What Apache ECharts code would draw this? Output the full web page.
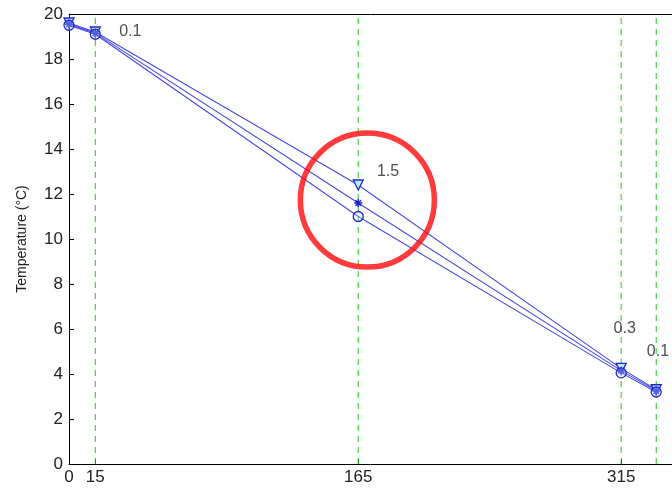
<!DOCTYPE html>
<html><head><meta charset="utf-8">
<script src="https://cdn.jsdelivr.net/npm/echarts@6/dist/echarts.min.js"></script>
<style>html,body{margin:0;padding:0;background:#fff}#c{width:672px;height:491px}</style>
</head><body><div id="c"></div>
<script>
const xPositions = [0, 15, 165, 315, 335];
const seriesTriangle = [19.6, 19.2, 12.4, 4.25, 3.3];
const seriesStar = [19.55, 19.15, 11.6, 4.15, 3.25];
const seriesCircle = [19.5, 19.1, 11.0, 4.05, 3.2];
const guideX = [15, 165, 315, 335];
const xTicks = [0, 15, 165, 315];
const annotTexts = ['0.1', '1.5', '0.3', '0.1'];
const annotX = [35, 182, 317, 336];
const annotY = [19.2, 13.0, 6.0, 5.0];
const highlight = [170.2, 11.73];

const lineColor = '#4848e0';
const markColor = '#2424cc';
const asterisk = 'path://M5,0L5,10M0,5L10,5M1.5,1.5L8.5,8.5M8.5,1.5L1.5,8.5';

function mk(vals){ return xPositions.map((x,i)=>[x, vals[i]]); }
const baseSeries = {type:'line', lineStyle:{color:lineColor, width:1.1}, itemStyle:{color:'#b8ecff', borderColor:markColor, borderWidth:1.3}, symbolSize:10, z:5};

const guideData = [];
guideX.forEach(x=>{ guideData.push([x,0]); guideData.push([x,20]); guideData.push([x,'-']); });

const chart = echarts.init(document.getElementById('c'));
chart.setOption({
  animation:false,
  grid:{left:69, top:14, bottom:27, right:0, show:false},
  xAxis:[{type:'value', min:0, max:344,
    axisLine:{show:true, onZero:false, lineStyle:{color:'#000'}},
    axisTick:{show:true, inside:true, length:5, customValues:xTicks, lineStyle:{color:'#000'}},
    axisLabel:{customValues:xTicks, color:'#222', fontSize:17, fontFamily:'Liberation Sans', margin:5},
    splitLine:{show:false}},
   {type:'value', min:0, max:344, position:'top',
    axisLine:{show:true, onZero:false, lineStyle:{color:'#000'}},
    axisTick:{show:false}, axisLabel:{show:false}, splitLine:{show:false}}],
  yAxis:{type:'value', min:0, max:20, interval:2,
    name:'Temperature (°C)', nameLocation:'middle', nameGap:40, nameRotate:90,
    nameTextStyle:{color:'#222', fontSize:14, fontFamily:'Liberation Sans'},
    axisLine:{show:true, lineStyle:{color:'#000'}},
    axisTick:{show:true, inside:true, length:5, lineStyle:{color:'#000'}},
    axisLabel:{color:'#222', fontSize:17, fontFamily:'Liberation Sans', margin:6},
    splitLine:{show:false}},
  series:[
    {type:'line', data:guideData, symbol:'none', connectNulls:false, z:2, silent:true,
      lineStyle:{color:'#22cc22', type:[6,5], width:1}},
    Object.assign({}, baseSeries, {name:'tri', data:mk(seriesTriangle), symbol:'triangle', symbolRotate:180}),
    Object.assign({}, baseSeries, {name:'star', data:mk(seriesStar), symbol:asterisk, symbolSize:8, itemStyle:{color:markColor, borderColor:markColor, borderWidth:1.5}}),
    Object.assign({}, baseSeries, {name:'circ', data:mk(seriesCircle), symbol:'circle', itemStyle:{color:'rgba(190,235,255,0.3)', borderColor:markColor, borderWidth:1.3}}),
    {type:'scatter', symbolSize:0, z:6,
      data:annotX.map((x,i)=>({value:[x, annotY[i]], label:{show:true, formatter:annotTexts[i], position:'inside', color:'#222', fontSize:16, fontFamily:'Liberation Sans'}}))},
    {type:'scatter', symbol:'circle', symbolSize:134, z:10, silent:true,
      itemStyle:{color:'transparent', borderColor:'#ff0a0a', borderWidth:5.5},
      data:[highlight]}
  ]
});
</script></body></html>
